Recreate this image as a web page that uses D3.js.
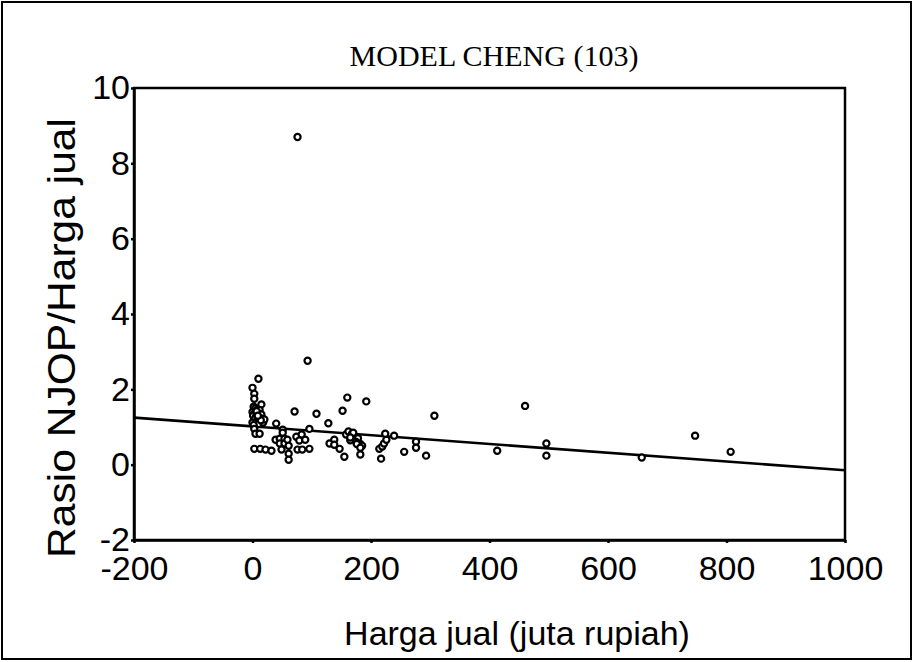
<!DOCTYPE html>
<html lang="en">
	<head>
		<meta charset="utf-8">
		<title>Model Cheng (103)</title>
		<script type="text/javascript" src="https://d3js.org/d3.v7.min.js"></script>
		<style type="text/css">
            body{margin:0;background:#fff;}
            .axis text{font-family:"Liberation Sans",Arial,sans-serif;font-size:34px;fill:#000;}
            .axis path,.axis line{stroke:#000;stroke-width:2.5;}
		</style>
	</head>
	<body>
    <div id="chart1"></div>
		<script type="text/javascript">
            //harga jual (juta rupiah) for each sale
            var hargaJual = [76,93,10,0,3,3,15,
                2,5,8,12,0,4,10,15,1,6,11,17,3,8,13,0,5,10,18,20,7,14,2,9,
                71,108,152,160,192,307,128,40,51,51,3,5,12,
                3,13,22,32,
                39,46,46,54,54,59,61,49,61,61,
                74,83,79,89,76,84,96,96,
                130,138,138,147,155,158,
                162,168,172,178,165,175,182,185,170,176,165,
                182,182,217,214,219,222,226,224,239,256,276,276,293,
                460,413,496,496,657,747,807]
            //rasio NJOP / harga jual, same order
            var rasio = [8.7,2.76,2.28,2.04,1.88,1.75,1.6,
                1.54,1.5,1.46,1.45,1.4,1.38,1.35,1.33,1.3,1.28,1.25,1.22,1.2,1.17,1.15,1.12,1.1,1.08,1.12,1.2,1.42,1.18,1.05,1.3,
                1.41,1.35,1.43,1.78,1.68,1.3,1.1,1.09,0.93,0.85,0.95,0.82,0.82,
                0.42,0.42,0.4,0.37,
                0.66,0.69,0.56,0.69,0.56,0.66,0.5,0.4,0.29,0.13,
                0.74,0.8,0.64,0.66,0.4,0.4,0.42,0.95,
                0.56,0.66,0.53,0.42,0.21,0.8,
                0.88,0.82,0.75,0.7,0.65,0.6,0.55,0.5,0.85,0.55,0.72,
                0.27,0.45,0.16,0.42,0.48,0.56,0.66,0.82,0.77,0.34,0.61,0.45,0.24,
                1.56,0.37,0.56,0.24,0.19,0.77,0.34]
            //fitted line, two ends
            var fitX = [-200,1000]
            var fitY = [1.25,-0.15]
            var xTicks = [-200,0,200,400,600,800,1000]
            var yTicks = [-2,0,2,4,6,8,10]

            var W = 914
            var H = 662
            //plot box edges (not "top", that one belongs to window)
            var boxL = 134, boxR = 845, boxT = 88, boxB = 540

            var svg = d3.select("#chart1")
                        .append("svg")
                        .attr("width",W)
                        .attr("height",H)

            //outer frame of the scan
            svg.append("rect")
                .attr("x",2).attr("y",2)
                .attr("width",W-5).attr("height",H-5)
                .attr("fill","none")
                .attr("stroke","#000")
                .attr("stroke-width",2)

            var xScale = d3.scaleLinear().domain([-200,1000]).range([boxL,boxR])
            var yScale = d3.scaleLinear().domain([-2,10]).range([boxB,boxT])

            //plot box
            svg.append("rect")
                .attr("x",boxL).attr("y",boxT)
                .attr("width",boxR-boxL).attr("height",boxB-boxT)
                .attr("fill","none")
                .attr("stroke","#000")
                .attr("stroke-width",2.5)

            var plain = function(d){ return String(d) }

            var xAxis = d3.axisBottom(xScale).tickValues(xTicks).tickFormat(plain)
                .tickSize(3).tickPadding(13).tickSizeOuter(0)
            svg.append("g")
                .attr("class","axis")
                .attr("transform","translate(0,"+boxB+")")
                .call(xAxis)

            var yAxis = d3.axisLeft(yScale).tickValues(yTicks).tickFormat(plain)
                .tickSize(3).tickPadding(1).tickSizeOuter(0)
            svg.append("g")
                .attr("class","axis")
                .attr("transform","translate("+boxL+",0)")
                .call(yAxis)

            //regression line
            svg.append("line")
                .attr("x1",xScale(fitX[0])).attr("y1",yScale(fitY[0]))
                .attr("x2",xScale(fitX[1])).attr("y2",yScale(fitY[1]))
                .attr("stroke","#000")
                .attr("stroke-width",2.6)

            //the points, small open circles
            svg.selectAll("circle")
                .data(hargaJual)
                .enter()
                .append("circle")
                .attr("cx",function(d){ return xScale(d) })
                .attr("cy",function(d,i){ return yScale(rasio[i]) })
                .attr("r",3.1)
                .attr("fill","#fff")
                .attr("stroke","#000")
                .attr("stroke-width",2.2)

            //title
            svg.append("text")
                .attr("x",494).attr("y",66)
                .attr("text-anchor","middle")
                .style("font-family","'Liberation Serif','Times New Roman',serif")
                .style("font-size","30px")
                .text("MODEL CHENG (103)")

            //axis titles
            svg.append("text")
                .attr("x",517).attr("y",645)
                .attr("text-anchor","middle")
                .style("font-family","'Liberation Sans',Arial,sans-serif")
                .style("font-size","34px")
                .text("Harga jual (juta rupiah)")

            svg.append("text")
                .attr("transform","translate(75,338) rotate(-90)")
                .attr("text-anchor","middle")
                .style("font-family","'Liberation Sans',Arial,sans-serif")
                .style("font-size","38px")
                .attr("textLength",440)
                .attr("lengthAdjust","spacingAndGlyphs")
                .text("Rasio NJOP/Harga jual")
		</script>
	</body>
</html>
